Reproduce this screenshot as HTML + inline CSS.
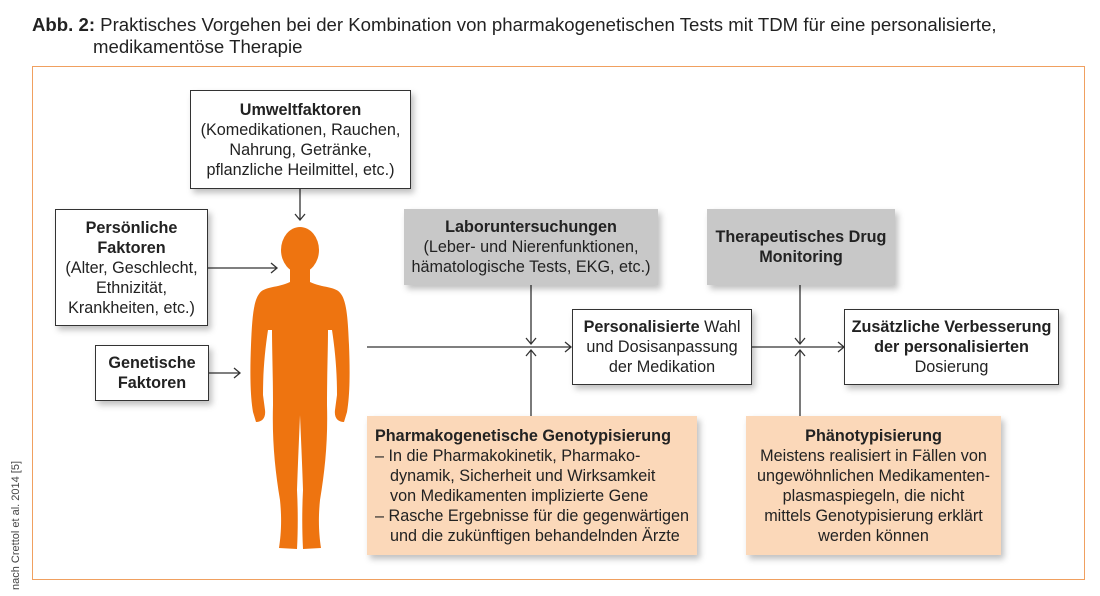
<!DOCTYPE html>
<html><head><meta charset="utf-8">
<style>
body{margin:0;width:1100px;height:596px;background:#fff;position:relative;overflow:hidden;font-family:"Liberation Sans",sans-serif;color:#222}
.t{position:absolute;font-size:18.6px;line-height:22px;color:#222;white-space:nowrap}
.b{position:absolute;box-sizing:border-box;font-size:16.2px;line-height:20px;text-align:center;display:flex;flex-direction:column;justify-content:center;box-shadow:3px 4px 6px rgba(0,0,0,.25);white-space:nowrap}
.w{background:#fff;border:1.3px solid #333}
.g{background:#c8c8c8}
.o{background:#fbd8b9}
b{font-weight:bold}
svg{position:absolute;left:0;top:0}
</style></head><body>
<div class="t" style="left:32px;top:14px"><b>Abb. 2:</b> Praktisches Vorgehen bei der Kombination von pharmakogenetischen Tests mit TDM für eine personalisierte,</div>
<div class="t" style="left:93px;top:36px">medikamentöse Therapie</div>
<div style="position:absolute;left:32px;top:66px;width:1053px;height:514px;border:1.5px solid #f0a060;box-sizing:border-box"></div>
<div style="position:absolute;left:10px;top:590px;transform:rotate(-90deg);transform-origin:0 0;font-size:11px;color:#444;white-space:nowrap">nach Crettol et al. 2014 [5]</div>

<svg width="1100" height="596" viewBox="0 0 1100 596">
<g stroke="#333" stroke-width="1.3" fill="none">
<line x1="300" y1="189" x2="300" y2="220"/><polyline points="295,214 300,220 305,214"/>
<line x1="208" y1="268" x2="277" y2="268"/><polyline points="271,263 277,268 271,273"/>
<line x1="209" y1="373" x2="240" y2="373"/><polyline points="234,368 240,373 234,378"/>
<line x1="367" y1="347" x2="571" y2="347"/><polyline points="565,342 571,347 565,352"/>
<line x1="531" y1="285" x2="531" y2="344"/><polyline points="526,338 531,344 536,338"/>
<line x1="531" y1="416" x2="531" y2="350"/><polyline points="526,356 531,350 536,356"/>
<line x1="800" y1="285" x2="800" y2="344"/><polyline points="795,338 800,344 805,338"/>
<line x1="800" y1="416" x2="800" y2="350"/><polyline points="795,356 800,350 805,356"/>
<line x1="752" y1="347" x2="844" y2="347"/><polyline points="838,342 844,347 838,352"/>
</g>
<g fill="#ee7410">
<ellipse cx="300" cy="250" rx="19" ry="23"/>
<path d="M290,266 L290,282 C278,288 264,286 259,294 C253,302 252,322 251,345 C250,370 250,395 253,412 L256,422 C262,422 266,418 265,410 L263,395 C263,370 265,350 268,330 L272,330 C272,350 273,375 273,405 C272,440 275,470 280,500 C282,520 281,535 279,548 L297,549 C298,530 298,510 297,490 C298,460 299,440 300,415 C301,440 302,460 303,490 C302,510 302,530 303,549 L321,548 C319,535 318,520 320,500 C325,470 328,440 327,405 C327,375 328,350 328,330 L332,330 C335,350 337,370 337,395 L335,410 C334,418 338,422 344,422 L347,412 C350,395 350,370 349,345 C348,322 347,302 341,294 C336,286 322,288 310,282 L310,266 Z"/>
</g>
</svg>

<div class="b w" style="left:190px;top:90px;width:221px;height:99px"><b>Umweltfaktoren</b>(Komedikationen, Rauchen,<br>Nahrung, Getränke,<br>pflanzliche Heilmittel, etc.)</div>
<div class="b w" style="left:55px;top:209px;width:153px;height:117px"><b>Persönliche<br>Faktoren</b>(Alter, Geschlecht,<br>Ethnizität,<br>Krankheiten, etc.)</div>
<div class="b w" style="left:95px;top:345px;width:114px;height:56px"><b>Genetische<br>Faktoren</b></div>
<div class="b g" style="left:404px;top:209px;width:254px;height:76px"><b>Laboruntersuchungen</b>(Leber- und Nierenfunktionen,<br>hämatologische Tests, EKG, etc.)</div>
<div class="b g" style="left:707px;top:209px;width:188px;height:76px"><b>Therapeutisches Drug<br>Monitoring</b></div>
<div class="b w" style="left:572px;top:309px;width:180px;height:76px"><span><b>Personalisierte</b> Wahl</span>und Dosisanpassung<br>der Medikation</div>
<div class="b w" style="left:844px;top:309px;width:215px;height:76px"><b>Zusätzliche Verbesserung<br>der personalisierten</b>Dosierung</div>
<div class="b o" style="left:367px;top:416px;width:330px;height:139px;text-align:left;padding-left:8px"><b>Pharmakogenetische Genotypisierung</b>
<div style="padding-left:15px;text-indent:-15px">– In die Pharmakokinetik, Pharmako-<br>dynamik, Sicherheit und Wirksamkeit<br>von Medikamenten implizierte Gene</div>
<div style="padding-left:15px;text-indent:-15px">– Rasche Ergebnisse für die gegenwärtigen<br>und die zukünftigen behandelnden Ärzte</div></div>
<div class="b o" style="left:746px;top:416px;width:255px;height:139px"><b>Phänotypisierung</b>Meistens realisiert in Fällen von<br>ungewöhnlichen Medikamenten-<br>plasmaspiegeln, die nicht<br>mittels Genotypisierung erklärt<br>werden können</div>
</body></html>
